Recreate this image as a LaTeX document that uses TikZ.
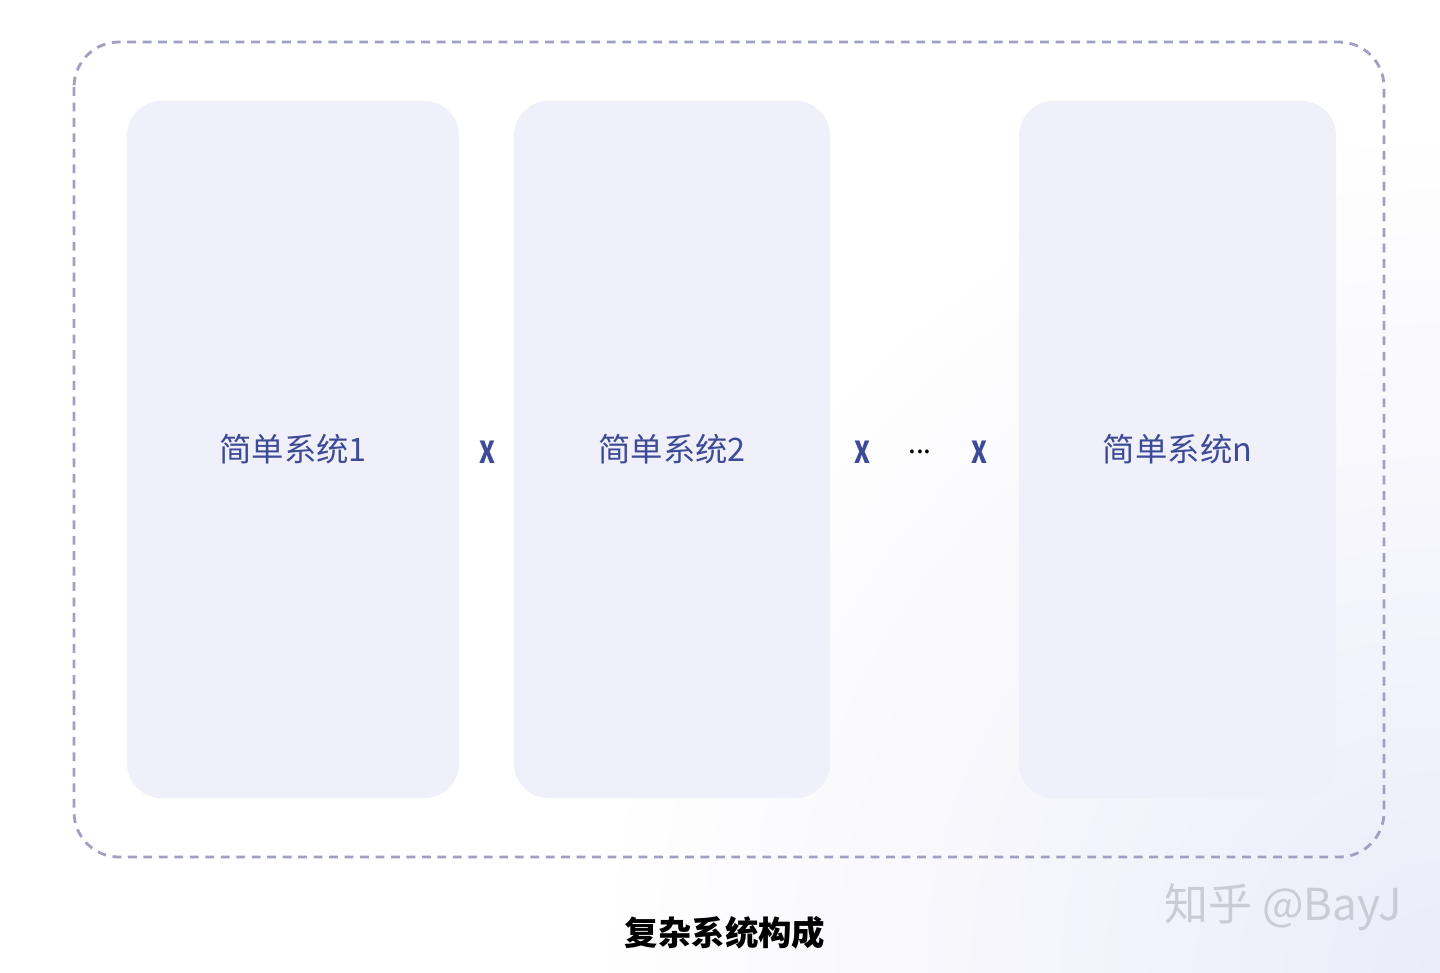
\documentclass[tikz,border=0pt]{standalone}
\usepackage{fontspec}
\newfontfamily\cjk{Noto Sans CJK SC}
\usetikzlibrary{positioning}
\definecolor{panelfill}{HTML}{F0F0FA}
\definecolor{dashcol}{HTML}{A0A0C2}
\definecolor{labelcol}{HTML}{3D4A96}
\definecolor{wmarkcol}{HTML}{CBCBD3}
\definecolor{tintcol}{HTML}{ECECF9}

\begin{document}
\begin{tikzpicture}[
				x=0.01cm, y=-0.01cm,
				panel/.style = {fill=panelfill, rounded corners=0.35cm, minimum height=6.97cm, inner sep=0pt, text=labelcol, font=\cjk\fontsize{9.2}{11}\selectfont},
				times/.style = {text=labelcol, inner sep=0pt, font=\cjk\bfseries\fontsize{8.6}{10}\selectfont, xscale=0.8},
			]
			\path[use as bounding box] (0,0) rectangle (1440,972);
			\begin{scope}
				\clip (0,0) rectangle (1440,972);
				\shade[inner color=tintcol, outer color=white] (1440,972) circle (8.5cm);
			\end{scope}
			\draw[dashcol, line width=0.8pt, dash pattern=on 2.5pt off 1.9pt, rounded corners=0.45cm] (74,42) rectangle (1384,857);
			\node[panel, minimum width=3.32cm] (sys1) at (293,449.5) {简单系统1};
			\node[panel, minimum width=3.16cm] (sys2) at (672,449.5) {简单系统2};
			\node[panel, minimum width=3.17cm] (sysn) at (1177.5,449.5) {简单系统n};
			\node[times] (x1) at (487,452) {X};
			\node[times] (x2) at (862,452) {X};
			\node[inner sep=0pt, font=\cjk\fontsize{8}{10}\selectfont] (dots) at (920,452) {...};
			\node[times] (x3) at (979,452) {X};
			\node[inner sep=0pt, font=\cjk\bfseries\fontsize{9.5}{11}\selectfont] (caption) at (725,933) {复杂系统构成};
			\node[inner sep=0pt, text=wmarkcol, font=\cjk\fontsize{12.5}{14}\selectfont] (mark) at (1283,907) {知乎 @BayJ};
		\end{tikzpicture}
\end{document}
